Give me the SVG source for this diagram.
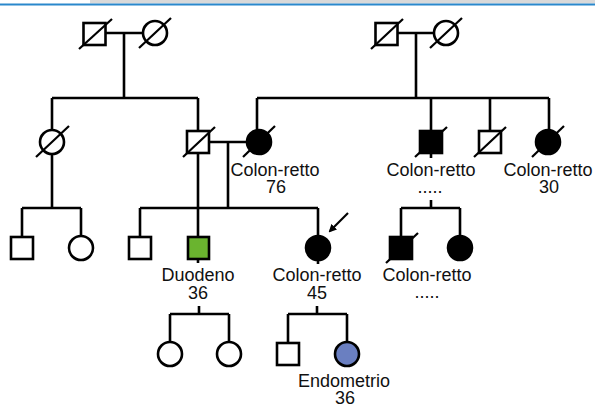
<svg xmlns="http://www.w3.org/2000/svg" width="595" height="405" viewBox="0 0 595 405">
<style>
.ln{stroke:#000;stroke-width:2.6;fill:none}
.sh{stroke:#000;stroke-width:2.6;fill:#fff}
.af{fill:#000}
.sl{stroke:#000;stroke-width:2.2}
text{font-family:"Liberation Sans",Arial,sans-serif;font-size:18px;fill:#111;text-anchor:middle}
</style>
<defs>
<marker id="ah" markerWidth="8" markerHeight="8" refX="6" refY="4" orient="auto" markerUnits="userSpaceOnUse"><path d="M0,0 L8,4 L0,8 Z" fill="#000"/></marker>
</defs>
<rect x="0" y="0" width="595" height="405" fill="#fff"/>
<rect x="90" y="0" width="505" height="3.5" fill="#d9d9d9"/>
<rect x="0" y="3.5" width="595" height="2" fill="#2a88cc"/>
<g id="connectors">
<path class="ln" d="M106,33 H143 M124,33 V98 M52,98 H198 M52,98 V208 M198,98 V237"/>
<path class="ln" d="M398,33 H434 M416,33 V98 M257,98 H549 M257,98 V130 M431,98 V158 M490,98 V131 M549,98 V130"/>
<path class="ln" d="M209,142 H247 M228,142 V208 M140,208 H318 M140,208 V237 M318,208 V236 M318,260 V264"/>
<path class="ln" d="M22,208 H81 M22,208 V237 M81,208 V236"/>
<path class="ln" d="M198,259 V263 M199,306 V314 M170,314 H229 M170,314 V342 M229,314 V342"/>
<path class="ln" d="M317,306 V314 M288,314 H347 M288,314 V343 M347,314 V342"/>
<path class="ln" d="M431,200 V208 M401,208 H460 M401,208 V237 M460,208 V236"/>
<line x1="348" y1="213" x2="330" y2="231" stroke="#000" stroke-width="2.2" marker-end="url(#ah)"/>
</g>
<g id="gf1"><rect class="sh" x="83.5" y="23" width="22" height="22"/><line class="sl" x1="79" y1="49" x2="112" y2="19"/></g>
<g id="gm1"><circle class="sh" cx="155" cy="33" r="12"/><line class="sl" x1="139" y1="48" x2="171" y2="18"/></g>
<g id="gf2"><rect class="sh" x="375.5" y="23" width="22" height="22"/><line class="sl" x1="371" y1="49" x2="403" y2="19"/></g>
<g id="gm2"><circle class="sh" cx="446" cy="33" r="12"/><line class="sl" x1="430" y1="48" x2="462" y2="18"/></g>
<g id="aunt1"><circle class="sh" cx="52" cy="142" r="12"/><line class="sl" x1="36" y1="157" x2="69" y2="126"/></g>
<g id="father"><rect class="sh" x="187" y="131" width="22" height="22"/><line class="sl" x1="183" y1="157" x2="215" y2="127"/></g>
<g id="mother"><circle class="sh af" cx="259" cy="142" r="12"/><line class="sl" x1="243" y1="157" x2="275" y2="126"/><text x="275" y="176">Colon-retto</text><text x="276" y="193">76</text></g>
<g id="uncle1"><rect class="sh af" x="420" y="131" width="22" height="22"/><line class="sl" x1="415" y1="157" x2="447" y2="127"/><text x="431" y="176">Colon-retto</text><text x="430" y="193">.....</text></g>
<g id="uncle2"><rect class="sh" x="479" y="131" width="22" height="22"/><line class="sl" x1="474" y1="157" x2="506" y2="127"/></g>
<g id="aunt2"><circle class="sh af" cx="548" cy="142" r="12"/><line class="sl" x1="532" y1="157" x2="564" y2="126"/><text x="548" y="176">Colon-retto</text><text x="549" y="193">30</text></g>
<g id="cousin1"><rect class="sh" x="11" y="237" width="22" height="22"/></g>
<g id="cousin2"><circle class="sh" cx="81" cy="248" r="12"/></g>
<g id="brother"><rect class="sh" x="129" y="237" width="22" height="22"/></g>
<g id="duodeno"><rect class="sh" x="188" y="237" width="21" height="22" fill="#6ab42f" style="fill:#6ab42f"/><text x="198" y="281">Duodeno</text><text x="198" y="299">36</text></g>
<g id="proband"><circle class="sh af" cx="318" cy="248" r="12"/><text x="317" y="281">Colon-retto</text><text x="317" y="299">45</text></g>
<g id="cousin3"><rect class="sh af" x="390" y="237" width="22" height="22"/><line class="sl" x1="386" y1="263" x2="418" y2="233"/><text x="427" y="281">Colon-retto</text><text x="427" y="298">.....</text></g>
<g id="cousin4"><circle class="sh af" cx="460" cy="248" r="12"/></g>
<g id="n1"><circle class="sh" cx="170" cy="354" r="12"/></g>
<g id="n2"><circle class="sh" cx="229" cy="354" r="12"/></g>
<g id="n3"><rect class="sh" x="277" y="343" width="22" height="22"/></g>
<g id="endometrio"><circle class="sh" cx="347" cy="354" r="12" style="fill:#6a7fc1"/><text x="344" y="387">Endometrio</text><text x="345" y="404">36</text></g>
</svg>
